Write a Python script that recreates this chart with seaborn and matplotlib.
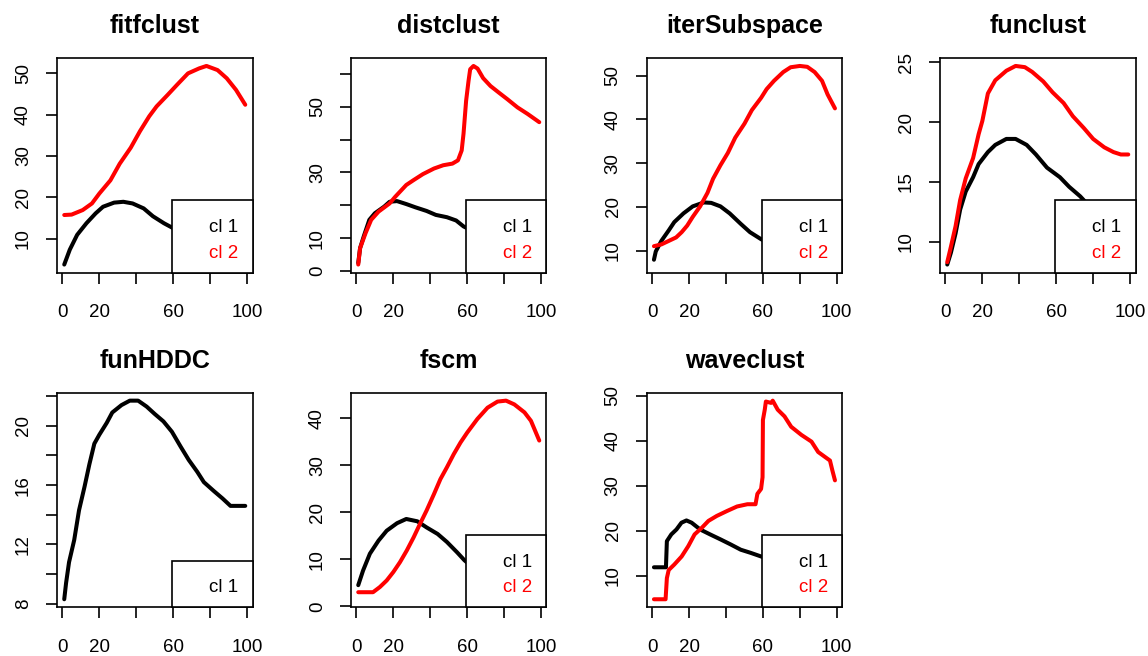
import matplotlib
matplotlib.use("Agg")
import matplotlib.pyplot as plt
import seaborn as sns
import pandas as pd
from matplotlib.patches import Rectangle

# ---------------- data ----------------
titles = ["fitfclust", "distclust", "iterSubspace", "funclust",
          "funHDDC", "fscm", "waveclust"]
series_names = ["cl 1", "cl 2"]
series_colors = ["black", "red"]

fit_x1 = [1, 4, 8, 13, 18, 22, 28, 33, 38, 44, 49, 55, 60, 65, 70, 75, 80, 85, 90, 95, 99]
fit_y1 = [3.7, 7.3, 10.9, 13.7, 16.1, 17.7, 18.7, 18.9, 18.5, 17.3, 15.4, 13.7, 12.5, 11.5, 10.5, 9.6, 8.8, 8.0, 7.3, 6.6, 6.0]
fit_x2 = [1, 5, 11, 16, 20, 26, 31, 37, 42, 47, 51, 57, 62, 68, 74, 78, 84, 89, 94, 99]
fit_y2 = [15.7, 15.8, 16.9, 18.5, 20.9, 24.1, 28.1, 32.0, 36.0, 39.6, 42.0, 44.8, 47.2, 50.0, 51.2, 51.8, 50.8, 48.8, 46.0, 42.4]

dist_x1 = [1, 2, 4, 7, 10, 15, 18, 22, 27, 32, 38, 43, 49, 54, 58, 62, 70, 80, 90, 99]
dist_y1 = [2.5, 7.0, 10.6, 15.6, 17.6, 19.6, 21.1, 21.3, 20.4, 19.4, 18.3, 17.1, 16.4, 15.4, 13.6, 12.5, 11.0, 9.5, 8.0, 7.0]
dist_x2 = [1, 2, 5, 8, 12, 18, 21, 27, 31, 36, 42, 47, 52, 55, 57, 58, 59.4, 60.7, 61.6, 63.4, 65.6, 68.6, 72.6, 77.1, 81.7, 87.2, 92.7, 99]
dist_y2 = [2.0, 7.0, 11.6, 15.6, 18.1, 20.6, 22.6, 26.2, 27.7, 29.5, 31.2, 32.2, 32.7, 33.7, 36.7, 41.8, 51.8, 57.8, 61.4, 62.4, 61.6, 58.7, 56.3, 54.3, 52.3, 49.8, 47.8, 45.3]

iter_x1 = [1, 2, 5, 9, 12, 17, 22, 28, 32, 37, 42, 48, 53, 59, 65, 70, 75, 80, 85, 90, 95, 99]
iter_y1 = [7.9, 9.8, 12.2, 14.6, 16.5, 18.5, 20.1, 21.0, 20.9, 20.1, 18.5, 16.1, 14.2, 12.6, 11.3, 10.3, 9.4, 8.7, 8.0, 7.5, 7.1, 6.8]
iter_x2 = [1, 5, 9, 13, 16, 19, 22, 26, 30, 33, 37, 41, 45, 50, 54, 59, 62, 66, 71, 75, 80, 84, 88, 92, 95, 99]
iter_y2 = [11.0, 11.4, 12.2, 13.0, 14.2, 15.7, 17.7, 20.1, 23.2, 26.4, 29.5, 32.3, 35.8, 39.0, 42.1, 44.9, 46.9, 48.8, 50.8, 51.9, 52.2, 52.0, 50.8, 48.8, 45.7, 42.5]

fun_x1 = [1, 3, 5.5, 8, 11, 15, 18, 23, 27, 33, 38, 44, 49, 55, 62, 67, 73, 76, 80, 85, 90, 95, 99]
fun_y1 = [8.1, 9.1, 10.7, 12.7, 14.2, 15.4, 16.5, 17.5, 18.1, 18.6, 18.6, 18.1, 17.3, 16.2, 15.4, 14.6, 13.8, 13.3, 12.7, 12.1, 11.6, 11.2, 11.0]
fun_x2 = [1, 3, 5.5, 8, 11, 15, 18, 20, 23, 27, 33, 38, 43, 47, 53, 58, 64, 69, 75, 80, 86, 91, 95, 99]
fun_y2 = [8.3, 9.6, 11.3, 13.5, 15.3, 17.0, 19.0, 20.1, 22.4, 23.5, 24.3, 24.7, 24.6, 24.2, 23.4, 22.5, 21.6, 20.5, 19.5, 18.6, 17.9, 17.5, 17.3, 17.3]

hddc_x1 = [1, 2, 3.6, 6.4, 9, 12, 14.6, 17.3, 20, 24, 27, 32, 36.5, 41, 45.6, 50, 54.7, 59.3, 64, 68.4, 73, 76.6, 82, 86.7, 91, 99]
hddc_y1 = [8.3, 9.4, 10.8, 12.3, 14.3, 15.9, 17.4, 18.8, 19.4, 20.2, 20.9, 21.4, 21.7, 21.7, 21.3, 20.8, 20.3, 19.6, 18.6, 17.7, 16.9, 16.2, 15.6, 15.1, 14.6, 14.6]

fscm_x1 = [1, 3.6, 7.3, 12, 16.4, 22, 27, 33, 38, 44, 49, 54.5, 58.5, 60, 65, 70, 75, 80, 85, 90, 95, 99]
fscm_y1 = [4.5, 7.6, 11.2, 14.0, 16.1, 17.7, 18.6, 18.1, 16.8, 15.4, 13.7, 11.5, 9.8, 9.3, 8.0, 6.6, 5.4, 4.4, 3.5, 2.7, 2.0, 1.5]
fscm_x2 = [1, 9, 12.7, 16.4, 20, 23.6, 27.3, 31, 34.5, 38, 42, 45.5, 49, 52.7, 56.4, 60, 65.5, 71, 76.4, 81, 85.5, 91, 94.5, 99]
fscm_y2 = [3.0, 3.0, 4.1, 5.5, 7.3, 9.4, 11.9, 14.7, 17.6, 20.4, 23.9, 27.1, 29.6, 32.4, 34.9, 37.0, 39.9, 42.3, 43.6, 43.8, 43.0, 41.3, 39.5, 35.3]

wave_x1 = [1, 7.5, 8, 10.4, 13.2, 15.9, 18.6, 21.4, 26, 31.4, 37, 42.4, 48, 53.4, 59, 65, 70, 80, 90, 99]
wave_y1 = [11.9, 11.9, 17.7, 19.2, 20.3, 21.8, 22.3, 21.8, 20.3, 19.2, 18.1, 17.0, 15.8, 15.1, 14.3, 13.5, 12.8, 11.5, 10.5, 9.8]
wave_x2 = [1, 7.3, 8, 9, 12, 16, 19.6, 23, 27, 30.5, 35, 40.6, 46, 51.6, 56, 57, 59, 59.8, 60, 61, 61.6, 64.4, 65.3, 68, 71.7, 75.3, 80.8, 86.3, 89.9, 93.6, 96.3, 97.6, 99]
wave_y2 = [4.8, 4.8, 9.5, 11.3, 12.5, 14.3, 16.6, 19.2, 20.7, 22.2, 23.3, 24.4, 25.4, 25.9, 25.9, 28.2, 29.3, 31.9, 44.6, 46.9, 48.7, 48.4, 48.9, 46.9, 45.4, 43.1, 41.3, 39.8, 37.5, 36.4, 35.6, 33.4, 31.2]

x_ticks = [0, 20, 40, 60, 80, 100]
x_ticklabels = ["0", "20", "", "60", "", "100"]

yticks_fit = [10, 20, 30, 40, 50]
ylabels_fit = ["10", "20", "30", "40", "50"]
yticks_dist = [0, 10, 20, 30, 40, 50, 60]
ylabels_dist = ["0", "10", "", "30", "", "50", ""]
yticks_iter = [10, 20, 30, 40, 50]
ylabels_iter = ["10", "20", "30", "40", "50"]
yticks_fun = [10, 15, 20, 25]
ylabels_fun = ["10", "15", "20", "25"]
yticks_hddc = [8, 10, 12, 14, 16, 18, 20, 22]
ylabels_hddc = ["8", "", "12", "", "16", "", "20", ""]
yticks_fscm = [0, 10, 20, 30, 40]
ylabels_fscm = ["0", "10", "20", "30", "40"]
yticks_wave = [10, 20, 30, 40, 50]
ylabels_wave = ["10", "20", "30", "40", "50"]

# ---------------- styling ----------------
sns.set_style("ticks")
plt.rcParams["font.family"] = ["Liberation Sans", "DejaVu Sans"]
plt.rcParams["text.color"] = "black"
plt.rcParams["axes.titlecolor"] = "black"

W, H = 1148, 656
fig = plt.figure(figsize=(W / 100, H / 100), dpi=100)

col_left = [57, 351, 646.7, 940]
row_top = [58, 392.7]
ax_w, ax_h = 195.5, 214.5

panels = [
    (titles[0], [(fit_x1, fit_y1), (fit_x2, fit_y2)], yticks_fit, ylabels_fit, 0, 0),
    (titles[1], [(dist_x1, dist_y1), (dist_x2, dist_y2)], yticks_dist, ylabels_dist, 0, 1),
    (titles[2], [(iter_x1, iter_y1), (iter_x2, iter_y2)], yticks_iter, ylabels_iter, 0, 2),
    (titles[3], [(fun_x1, fun_y1), (fun_x2, fun_y2)], yticks_fun, ylabels_fun, 0, 3),
    (titles[4], [(hddc_x1, hddc_y1)], yticks_hddc, ylabels_hddc, 1, 0),
    (titles[5], [(fscm_x1, fscm_y1), (fscm_x2, fscm_y2)], yticks_fscm, ylabels_fscm, 1, 1),
    (titles[6], [(wave_x1, wave_y1), (wave_x2, wave_y2)], yticks_wave, ylabels_wave, 1, 2),
]

for title, series, yt, yl, r, c in panels:
    left = col_left[c] / W
    bottom = (H - row_top[r] - ax_h) / H
    ax = fig.add_axes([left, bottom, ax_w / W, ax_h / H])

    frames = []
    for i, (xs, ys) in enumerate(series):
        frames.append(pd.DataFrame({"x": xs, "y": ys, "cl": series_names[i]}))
    df = pd.concat(frames, ignore_index=True)
    names = series_names[:len(series)]
    sns.lineplot(data=df, x="x", y="y", hue="cl", hue_order=names,
                 palette=dict(zip(names, series_colors)), estimator=None,
                 sort=False, linewidth=2.9, legend=False, ax=ax)

    xmin, xmax = df["x"].min(), df["x"].max()
    ymin, ymax = df["y"].min(), df["y"].max()
    ax.set_xlim(xmin - 0.04 * (xmax - xmin), xmax + 0.04 * (xmax - xmin))
    ax.set_ylim(ymin - 0.04 * (ymax - ymin), ymax + 0.04 * (ymax - ymin))

    ax.set_xticks(x_ticks)
    ax.set_xticklabels(x_ticklabels)
    ax.set_yticks(yt)
    ax.set_yticklabels(yl, rotation=90, va="center")
    ax.set_xlabel("")
    ax.set_ylabel("")
    ax.tick_params(axis="both", direction="out", length=8, width=1.2,
                   color="black", labelsize=13.5, labelcolor="black")
    ax.tick_params(axis="x", pad=15)
    ax.tick_params(axis="y", pad=10)
    for sp in ax.spines.values():
        sp.set_visible(True)
        sp.set_linewidth(1.2)
        sp.set_color("black")

    ax.set_title(title, fontsize=18, fontweight="bold", pad=18, color="black")

    # legend box (bottom right, R style)
    n = len(series)
    box_h = (n * 25.6 + 21) / ax_h
    ax.add_patch(Rectangle((0.589, 0), 0.411, box_h, transform=ax.transAxes,
                           facecolor="white", edgecolor="black", linewidth=1.2,
                           zorder=5, clip_on=False))
    for i in range(n):
        ypos = (19.5 + (n - 1 - i) * 25.6) / ax_h
        ax.text(0.927, ypos, names[i], transform=ax.transAxes, ha="right",
                va="center", fontsize=13.5, color=series_colors[i], zorder=6)

fig.savefig("out.png", dpi=100)
